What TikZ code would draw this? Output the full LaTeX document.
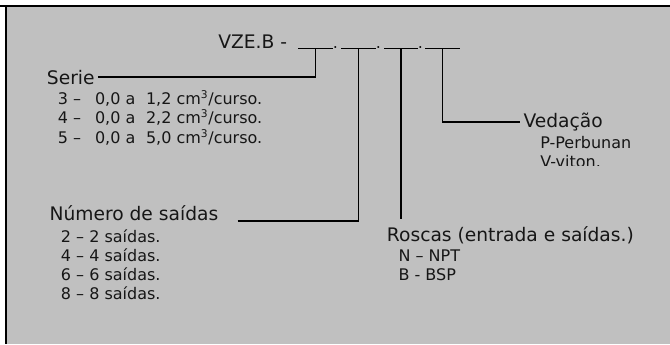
\documentclass[tikz,border=0pt]{standalone}
\usepackage{fontspec}
\setmainfont{DejaVu Sans}
\definecolor{panelGray}{RGB}{192,192,192}
\definecolor{inkBlack}{RGB}{22,22,22}
\tikzset{
  heading/.style={font=\fontsize{14}{16}\selectfont, text=inkBlack, inner xsep=2.25pt,
                  inner ysep=1pt, anchor=base west},
  entry/.style={font=\fontsize{12}{14}\selectfont, text=inkBlack, inner sep=0pt, anchor=base west},
  blank/.style={fill=black, inner sep=0pt, minimum width=26pt, minimum height=0.9pt},
  lead/.style={line width=1.4pt, draw=black},
  frame/.style={line width=1.5pt, draw=black}
}

\begin{document}
\begin{tikzpicture}[x=0.75pt, y=-0.75pt]
\useasboundingbox (0,0) rectangle (670,344);
\fill[panelGray] (5,5) rectangle (670,344);
\draw[frame] (0,5.7) -- (670,5.7);
\draw[frame] (5.7,5) -- (5.7,344);
% code line
\node[heading, inner xsep=0pt] (code) at (218,48) {VZE.B -};
\node[blank] (b1) at (315.5,48.3) {};
\node[blank] (b2) at (358.5,48.3) {};
\node[blank] (b3) at (401,48.3) {};
\node[blank] (b4) at (442.5,48.3) {};
\node[entry, anchor=base] (d1) at (335.5,48) {.};
\node[entry, anchor=base] (d2) at (378.5,48) {.};
\node[entry, anchor=base] (d3) at (420.5,48) {.};
% serie
\node[heading] (serie) at (43.7,84) {Serie};
\node[entry] (ser3) at (57.5,104.3) {3 –\hspace{10.5pt}0,0 a\hspace{8pt}1,2 cm\textsuperscript{3}/curso.};
\node[entry] (ser4) at (57.5,123.5) {4 –\hspace{10.5pt}0,0 a\hspace{8pt}2,2 cm\textsuperscript{3}/curso.};
\node[entry] (ser5) at (57.5,143.3) {5 –\hspace{10.5pt}0,0 a\hspace{8pt}5,0 cm\textsuperscript{3}/curso.};
% numero de saidas
\node[heading] (numero) at (46.3,220.7) {Número de saídas};
\foreach \n [count=\i] in {2,4,6,8}
  \node[entry] (sai\n) at (60.7,{242.7+19*(\i-1)}) {\n{} – \n{} saídas.};
% roscas
\node[heading] (roscas) at (383.7,241) {Roscas (entrada e saídas.)};
\node[entry] (npt) at (398.3,261) {N – NPT};
\node[entry] (bsp) at (398.3,280) {B - BSP};
\coordinate (roscaEnd) at (401,219);
% vedacao
\node[heading] (vedacao) at (520.3,127.3) {Vedação};
\node[entry] (perb) at (540,148.3) {P-Perbunan};
\begin{scope}
  \clip (500,150) rectangle (670,165.5);
  \node[entry] (viton) at (540,167) {V-viton.};
\end{scope}
% leaders
\draw[lead] (serie.east) -| (b1.south);
\draw[lead] ([xshift=12pt]numero.base east) -| (b2.south);
\draw[lead] (b3.south) -- (roscaEnd);
\draw[lead] (b4.south) |- (vedacao.west);
\end{tikzpicture}
\end{document}
